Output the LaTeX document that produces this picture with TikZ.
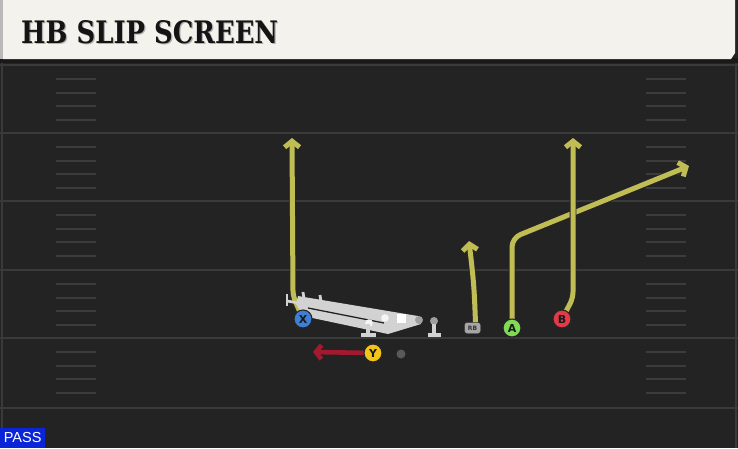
\documentclass[tikz,border=0pt]{standalone}
\usepackage{fontspec}
\setmainfont{DejaVu Sans}
\newfontfamily\titlefont{DejaVu Serif}
\newfontfamily\passfont{Liberation Sans}
\usetikzlibrary{arrows.meta}
\definecolor{field}{HTML}{232323}
\definecolor{yardc}{HTML}{3A3A3A}
\definecolor{hashc}{HTML}{3C3C3C}
\definecolor{banner}{HTML}{F4F2EC}
\definecolor{routec}{HTML}{C0BD55}
\definecolor{motionc}{HTML}{A3192F}
\definecolor{xblue}{HTML}{3E7FD6}
\definecolor{yyel}{HTML}{F2C318}
\definecolor{agreen}{HTML}{80DA55}
\definecolor{bred}{HTML}{E33A48}
\definecolor{olc}{HTML}{D2D2D2}
\definecolor{passblue}{HTML}{0A24D8}
\pgfdeclarelayer{fieldlayer}
\pgfdeclarelayer{routelayer}
\pgfsetlayers{fieldlayer,routelayer,main}
\begin{document}
\begin{tikzpicture}[x=1pt,y=-1pt,
  player/.style={circle, draw=black!85, line width=1.1pt, minimum size=18pt, inner sep=0pt,
    font=\fontsize{11}{11}\selectfont\bfseries, text=black!90},
  route/.style={draw=routec, line width=5pt, line join=round, rounded corners=6pt,
    -{Straight Barb[length=6pt,width=15pt]},
    preaction={draw=black!85, line width=6.6pt, -{Straight Barb[length=6pt,width=15pt]}}},
  motion/.style={draw=motionc, line width=4.6pt, -{Straight Barb[length=5.5pt,width=14pt]}},
  yard/.style={draw=yardc, line width=2pt},
  hashm/.style={draw=hashc, line width=1.8pt},
  oline/.style={draw=olc, line width=2.8pt}]
\useasboundingbox (0,0) rectangle (738,448);
\begin{pgfonlayer}{fieldlayer}
  \fill[field] (0,0) rectangle (738,448);
  % side lines
  \draw[yard] (2,63) -- (2,448);
  \draw[yard] (736,63) -- (736,448);
  % yard lines
  \foreach \y in {65,133,201,270,338,408} {
    \draw[yard] (0,\y) -- (738,\y);
  }
  % hash marks
  \foreach \b in {65,133,201,270,338} {
    \foreach \o in {14,28,41,55} {
      \draw[hashm] (56,\b+\o) -- (96,\b+\o);
      \draw[hashm] (646,\b+\o) -- (686,\b+\o);
    }
  }
  % banner
  \fill[black!90] (0,58) rectangle (738,63);
  \fill[gray!55] (0,0) rectangle (3,59);
  \fill[banner] (3,0) -- (735,0) -- (735,53) -- (731,59) -- (3,59) -- cycle;
\end{pgfonlayer}

% title
\node[anchor=west, text=gray!60, inner sep=0pt] at (22.2,33.2)
  {\resizebox{257pt}{23pt}{\titlefont\bfseries HB SLIP SCREEN}};
\node[anchor=west, text=black!92, inner sep=0pt] (title) at (21,32)
  {\resizebox{257pt}{23pt}{\titlefont\bfseries HB SLIP SCREEN}};

% PASS tag
\node[fill=passblue, text=white, anchor=south west, minimum width=45pt, minimum height=20pt,
  inner sep=0pt, font=\passfont\fontsize{14.5}{14.5}\selectfont] (pass) at (0,448) {PASS};

% offensive line
\fill[olc] (298,296) -- (418,316) -- (421,324) -- (388,334) -- (303,316) -- (296,304) -- cycle;
\draw[field, line width=1.3pt] (308,308) -- (384,323);
\draw[oline] (287,294) -- (287,306);
\draw[oline] (287,301) -- (299,303);
\draw[oline] (303,292) -- (304,299);
\draw[oline] (320,295) -- (321,302);
\fill[white!92!gray] (369,323) circle (3.8pt);
\fill[white!92!gray] (385,318) circle (3.8pt);
\draw[oline, line width=3.2pt] (368,324) -- (368,333);
\draw[oline, line width=3.6pt] (361,335) -- (376,335);
\fill[white] (397,313.5) rectangle (406,322.5);
\fill[gray!75] (419,320) circle (4pt);
\fill[gray!75] (434,321) circle (4pt);
\draw[oline, line width=3.2pt] (434,324) -- (434,333);
\draw[oline, line width=3.6pt] (428,335) -- (441,335);

% players
\node[player, fill=xblue] (X) at (303,319) {X};
\node[player, fill=yyel] (Y) at (373,353) {Y};
\node[player, fill=agreen] (A) at (512,328) {A};
\node[player, fill=bred] (B) at (562,319) {B};
\node[draw=gray!40!black, fill=gray!70, rounded corners=2.5pt, minimum width=16pt, minimum height=11pt,
  inner sep=0pt, font=\fontsize{6}{6}\selectfont\bfseries, text=black!80] (RB) at (472.5,328) {RB};
\node[circle, fill=gray!70!black, minimum size=9pt, inner sep=0pt] (ball) at (401,354) {};

% route ends
\coordinate (xend) at (292,138);
\coordinate (rbend) at (469,241);
\coordinate (aend) at (689,166);
\coordinate (bend) at (573,138);
\coordinate (yend) at (313,352);

\begin{pgfonlayer}{routelayer}
  \draw[route] (X.center) -- (293,296) -- (xend);
  \draw[route] ([xshift=3pt]RB.north) .. controls (474,285) .. (rbend);
  \draw[route, rounded corners=9pt] (A.center) -- (512,238) -- (aend);
  \draw[route] (B.center) -- (573,298) -- (bend);
  \draw[motion] (Y.center) -- (yend);
\end{pgfonlayer}
\end{tikzpicture}
\end{document}
